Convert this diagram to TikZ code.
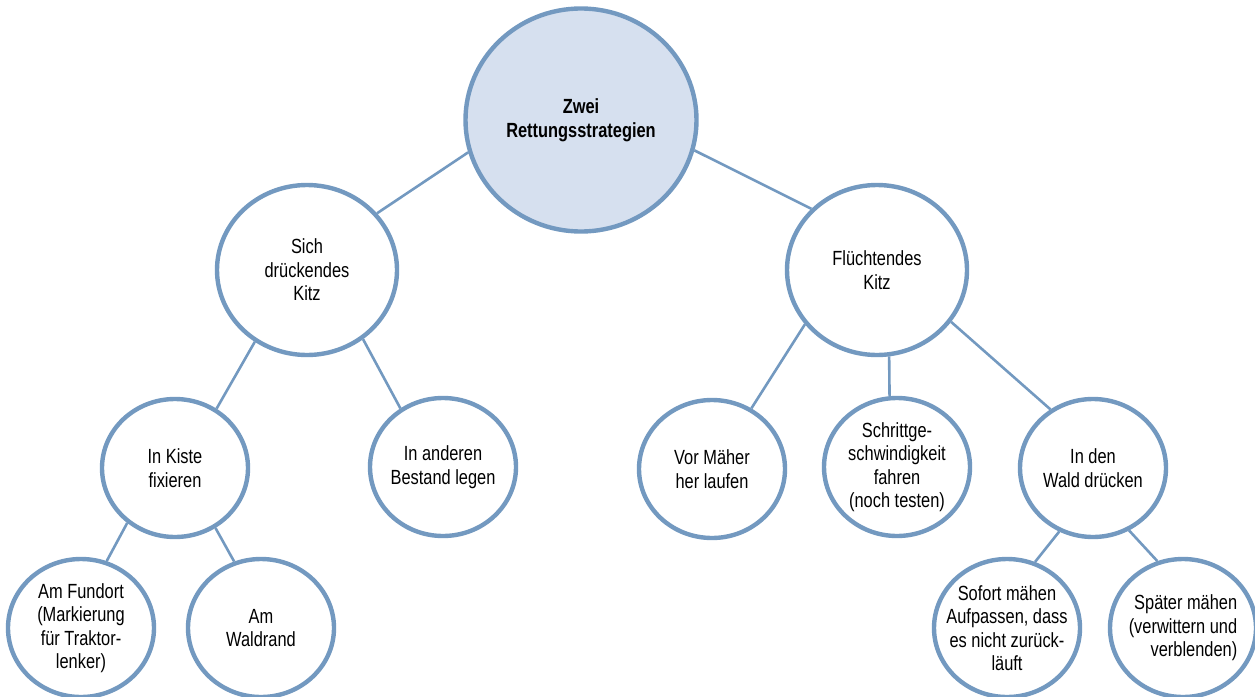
\documentclass[tikz,border=0pt]{standalone}
\usepackage{fontspec}
\setmainfont{Liberation Sans}[FakeStretch=0.8]
\usetikzlibrary{shapes.geometric}
\definecolor{frameblue}{RGB}{115,153,192}
\definecolor{rootfill}{RGB}{214,224,239}

\begin{document}
\begin{tikzpicture}[x=1pt, y=-1pt, font=\fontsize{20.5}{23.5}\selectfont,
    main/.style = {draw=frameblue, line width=4.4pt, ellipse, fill=white, align=center, inner sep=-15pt},
    big/.style = {main, minimum width=180pt, minimum height=170pt},
    small/.style = {main, minimum width=146pt, minimum height=138pt}]
      \useasboundingbox (0,0) rectangle (1255,696);

      \node[main, fill=rootfill, minimum width=231pt, minimum height=223pt, font=\fontsize{20.5}{24}\selectfont\bfseries] (1) at (581,120) {Zwei\\Rettungsstrategien};
      \node[big] (2) at (307,270) {Sich\\drückendes\\Kitz};
      \node[big] (3) at (877,270) {Flüchtendes\\Kitz};
      \node[small] (4) at (175,468) {In Kiste\\fixieren};
      \node[small] (5) at (443,467) {In anderen\\Bestand legen};
      \node[small] (6) at (712,469) {Vor Mäher\\her laufen};
      \node[small] (7) at (897,467) {Schrittge-\\schwindigkeit\\fahren\\(noch testen)};
      \node[small] (8) at (1093,468) {In den\\Wald drücken};
      \node[small] (9) at (81,628) {Am Fundort\\(Markierung\\für Traktor-\\lenker)};
      \node[small] (10) at (261,628) {Am\\Waldrand};
      \node[small] (11) at (1007,628) {Sofort mähen\\Aufpassen, dass\\es nicht zurück-\\läuft};
      \node[small, align=right] (12) at (1183,628) {Später mähen\\(verwittern und\\verblenden)};

      \path[draw=frameblue, line width=2.6pt]
      (1.196) edge (2.39)
      (1.345) edge (3.137)
      (2.234) edge (4.55)
      (2.309) edge (5.126)
      (3.217) edge (6.57)
      (3.278) edge (7.96)
      (3.325) edge (8.126)
      (4.229) edge (9.69)
      (4.304) edge (10.112)
      (8.242) edge (11.67)
      (8.300) edge (12.111);
    \end{tikzpicture}
\end{document}
